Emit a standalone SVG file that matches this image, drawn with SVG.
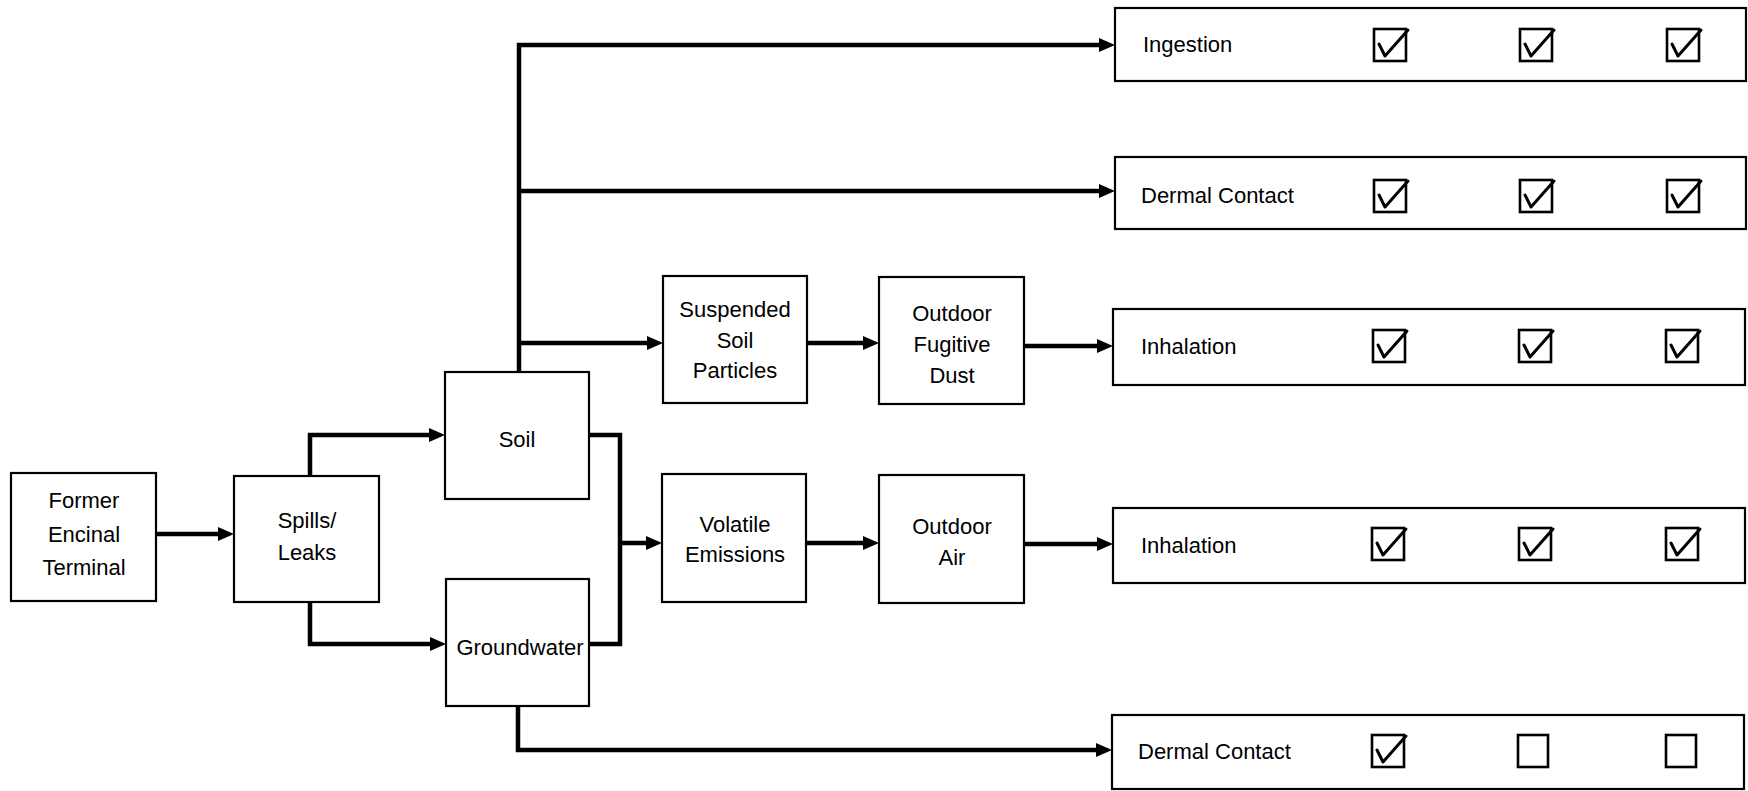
<svg xmlns="http://www.w3.org/2000/svg" width="1748" height="791" viewBox="0 0 1748 791">
  <style>
    .box { fill: #fff; stroke: #000; stroke-width: 2.2; }
    .lbl { font-family: "Liberation Sans", Arial, sans-serif; font-size: 22px; fill: #000; }
    .mid { text-anchor: middle; }
    .wire { fill: none; stroke: #000; stroke-width: 4.5; stroke-linejoin: miter; }
    .arr { marker-end: url(#head); }
    .cb { fill: #fff; stroke: #000; stroke-width: 2.6; }
    .tick { fill: none; stroke: #000; stroke-width: 3; stroke-linejoin: round; stroke-linecap: round; }
  </style>
  <defs>
    <marker id="head" markerUnits="userSpaceOnUse" viewBox="0 0 16 14" markerWidth="16" markerHeight="14" refX="8" refY="7" orient="auto">
      <path d="M0,0 L16,7 L0,14 z" fill="#000"/>
    </marker>
    <!-- ticked checkbox, 32x32 -->
    <g id="chk">
      <rect class="cb" x="0" y="0" width="32" height="32"/>
      <path class="tick" d="M5,15 L11,27 L34,1"/>
    </g>
    <rect id="box0" class="cb" x="0" y="0" width="30" height="32"/>
  </defs>

  <rect width="1748" height="791" fill="#fff"/>

  <!-- connectors -->
  <g id="connectors">
    <path class="wire arr" d="M156,534 L226,534"/>
    <path class="wire arr" d="M310,476 L310,435 L437,435"/>
    <path class="wire arr" d="M310,602 L310,644 L438,644"/>
    <path class="wire arr" d="M519,372 L519,45 L1107,45"/>
    <path class="wire arr" d="M519,191 L1107,191"/>
    <path class="wire arr" d="M519,343 L655,343"/>
    <path class="wire arr" d="M807,343 L871,343"/>
    <path class="wire arr" d="M1024,346 L1105,346"/>
    <path class="wire" d="M589,435 L620,435 L620,644 L589,644"/>
    <path class="wire arr" d="M620,543 L654,543"/>
    <path class="wire arr" d="M806,543 L871,543"/>
    <path class="wire arr" d="M1024,544 L1105,544"/>
    <path class="wire arr" d="M518,706 L518,750 L1104,750"/>
  </g>

  <g id="former-encinal-terminal">
    <rect class="box" x="11" y="473" width="145" height="128"/>
    <text class="lbl mid" x="84" y="508">Former</text>
    <text class="lbl mid" x="84" y="542">Encinal</text>
    <text class="lbl mid" x="84" y="575">Terminal</text>
  </g>

  <g id="spills-leaks">
    <rect class="box" x="234" y="476" width="145" height="126"/>
    <text class="lbl mid" x="307" y="528">Spills/</text>
    <text class="lbl mid" x="307" y="560">Leaks</text>
  </g>

  <g id="soil">
    <rect class="box" x="445" y="372" width="144" height="127"/>
    <text class="lbl mid" x="517" y="447">Soil</text>
  </g>

  <g id="groundwater">
    <rect class="box" x="446" y="579" width="143" height="127"/>
    <text class="lbl mid" x="520" y="655">Groundwater</text>
  </g>

  <g id="suspended-soil-particles">
    <rect class="box" x="663" y="276" width="144" height="127"/>
    <text class="lbl mid" x="735" y="317">Suspended</text>
    <text class="lbl mid" x="735" y="348">Soil</text>
    <text class="lbl mid" x="735" y="378">Particles</text>
  </g>

  <g id="outdoor-fugitive-dust">
    <rect class="box" x="879" y="277" width="145" height="127"/>
    <text class="lbl mid" x="952" y="321">Outdoor</text>
    <text class="lbl mid" x="952" y="352">Fugitive</text>
    <text class="lbl mid" x="952" y="383">Dust</text>
  </g>

  <g id="volatile-emissions">
    <rect class="box" x="662" y="474" width="144" height="128"/>
    <text class="lbl mid" x="735" y="532">Volatile</text>
    <text class="lbl mid" x="735" y="562">Emissions</text>
  </g>

  <g id="outdoor-air">
    <rect class="box" x="879" y="475" width="145" height="128"/>
    <text class="lbl mid" x="952" y="534">Outdoor</text>
    <text class="lbl mid" x="952" y="565">Air</text>
  </g>

  <!-- exposure routes -->
  <g id="ingestion">
    <rect class="box" x="1115" y="8" width="631" height="73"/>
    <text class="lbl" x="1143" y="52">Ingestion</text>
    <use href="#chk" x="1374" y="29"/>
    <use href="#chk" x="1520" y="29"/>
    <use href="#chk" x="1667" y="29"/>
  </g>

  <g id="dermal-contact-soil">
    <rect class="box" x="1115" y="157" width="631" height="72"/>
    <text class="lbl" x="1141" y="203">Dermal Contact</text>
    <use href="#chk" x="1374" y="180"/>
    <use href="#chk" x="1520" y="180"/>
    <use href="#chk" x="1667" y="180"/>
  </g>

  <g id="inhalation-dust">
    <rect class="box" x="1113" y="309" width="632" height="76"/>
    <text class="lbl" x="1141" y="354">Inhalation</text>
    <use href="#chk" x="1373" y="330"/>
    <use href="#chk" x="1519" y="330"/>
    <use href="#chk" x="1666" y="330"/>
  </g>

  <g id="inhalation-air">
    <rect class="box" x="1113" y="508" width="632" height="75"/>
    <text class="lbl" x="1141" y="553">Inhalation</text>
    <use href="#chk" x="1372" y="528"/>
    <use href="#chk" x="1519" y="528"/>
    <use href="#chk" x="1666" y="528"/>
  </g>

  <g id="dermal-contact-groundwater">
    <rect class="box" x="1112" y="715" width="632" height="74"/>
    <text class="lbl" x="1138" y="759">Dermal Contact</text>
    <use href="#chk" x="1372" y="735"/>
    <use href="#box0" x="1518" y="735"/>
    <use href="#box0" x="1666" y="735"/>
  </g>
</svg>
